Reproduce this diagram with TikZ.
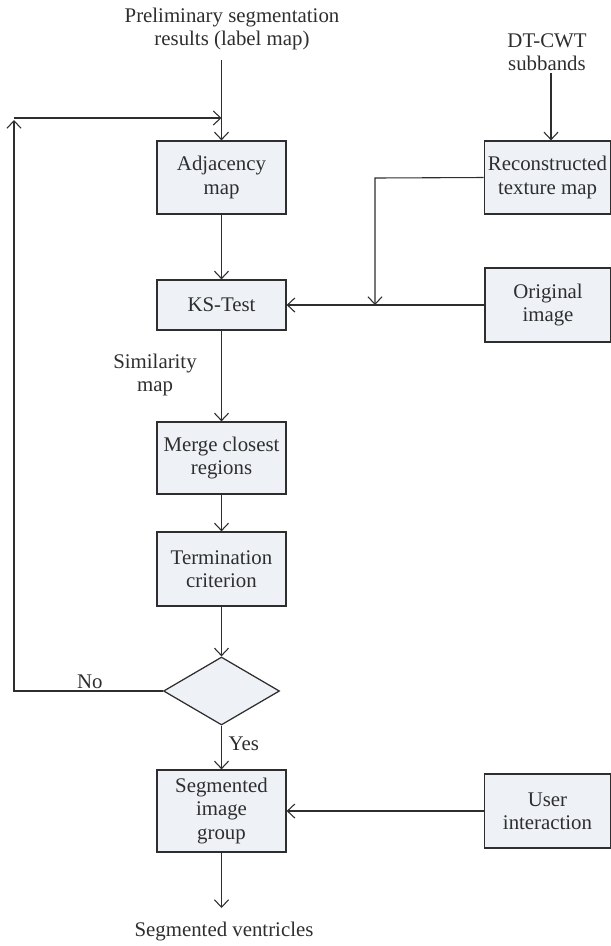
\documentclass[tikz,border=0pt]{standalone}
\usepackage{amsmath}
\usepackage{fontspec}
\setmainfont{Liberation Serif}
\usetikzlibrary{arrows.meta,shapes.geometric}
\definecolor{boxfill}{HTML}{EEF2F7}
\definecolor{ink}{HTML}{2E2E2E}
\tikzset{bx/.append style={draw=ink, fill=boxfill, line width=0.75pt, minimum width=77.4pt, inner sep=1pt, align=center, text=ink, font=\fontsize{12.5}{14}\selectfont}}
\tikzset{lbl/.append style={align=center, text=ink, inner sep=1pt, font=\fontsize{12.5}{14}\selectfont}}
\tikzset{arr/.append style={draw=ink, line width=0.65pt, -{Straight Barb[length=4.5pt,width=8.5pt]}}}

\begin{document}
\begin{tikzpicture}[x=0.6pt,y=-0.6pt]
                \useasboundingbox (0,0) rectangle (611,946);
                % boxes
                \node[lbl] (prelim) at (232,29) {\fontsize{12.5}{16.8}\selectfont Preliminary segmentation\\ results (label map)};
                \node[lbl] (dtcwt) at (547,52) {DT-CWT\\ subbands};
                \node[bx,minimum height=43.8pt] (adj) at (221.5,177.5) {Adjacency\\ map};
                \node[bx,minimum width=76pt,minimum height=43.8pt] (tex) at (547.5,177.5) {Reconstructed\\ texture map};
                \node[bx,minimum height=30pt] (ks) at (221.5,305) {KS-Test};
                \node[bx,minimum width=75.6pt,minimum height=44.4pt] (orig) at (548,305) {Original\\ image};
                \node[lbl] (sim) at (155,375) {Similarity\\ map};
                \node[bx,minimum height=43.2pt] (merge) at (221.5,458) {Merge closest\\ regions};
                \node[bx,minimum height=44.4pt] (term) at (221.5,569) {Termination\\ criterion};
                \node[draw=ink,fill=boxfill,line width=0.75pt,diamond,inner sep=0pt,minimum width=69.6pt,minimum height=40.8pt] (dec) at (221.5,691) {};
                \node[bx,minimum height=49.2pt] (seg) at (221.5,811) {Segmented\\ image\\ group};
                \node[bx,minimum width=76pt,minimum height=44.4pt] (user) at (547.5,811) {User\\ interaction};
                \node[lbl] (out) at (224,932) {Segmented ventricles};
                % loop corners and free ends
                \coordinate (ps) at (221.5,60);
                \coordinate (ds) at (551,73);
                \coordinate (oe) at (221.5,908);
                \coordinate (lb) at (14,691);
                \coordinate (lt) at (14,120);
                \coordinate (ls) at (14,118);
                \coordinate (le) at (221.5,118);
                \coordinate (tk) at (375,178);
                \coordinate (tj) at (375,305);
                % arrows
                \draw[arr] (ps) -- (adj.north);
                \draw[arr] (ds) -- (ds |- tex.north);
                \draw[arr] (adj) -- (ks);
                \draw[arr] (tex.west) -- (tk) -- (tj);
                \draw[arr] (orig.west) -- (ks.east);
                \draw[arr] (ks) -- (merge);
                \draw[arr] (merge) -- (term);
                \draw[arr] (term) -- (dec);
                \draw[arr] (dec) -- node[lbl,right,pos=0.42,xshift=3pt]{Yes} (seg);
                \draw[arr] (dec.west) -- node[lbl,above,pos=0.49]{No} (lb) -- (lt);
                \draw[arr] (ls) -- (le);
                \draw[arr] (user.west) -- (seg.east);
                \draw[arr] (seg.south) -- (oe);
            \end{tikzpicture}
\end{document}
